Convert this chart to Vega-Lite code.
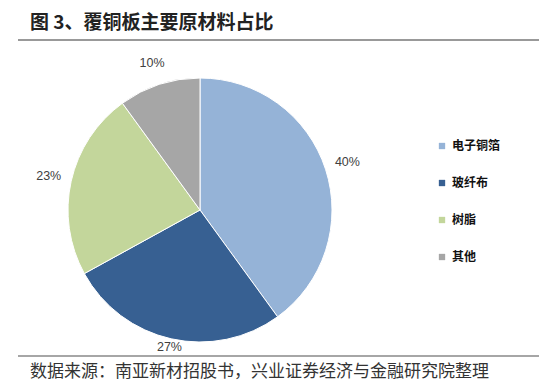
{
  "$schema": "https://vega.github.io/schema/vega-lite/v6.json",
  "width": 400,
  "height": 340,
  "autosize": {"type": "none"},
  "padding": {"left": 0, "top": 40, "right": 139, "bottom": 9},
  "background": "white",
  "title": {
    "text": "图 3、覆铜板主要原材料占比",
    "anchor": "start",
    "frame": "group",
    "dx": 30,
    "offset": 6,
    "font": "Noto Sans CJK SC",
    "fontSize": 19,
    "fontWeight": "bold",
    "color": "#222222"
  },
  "config": {"view": {"stroke": null}},
  "data": {
    "values": [
      {"material": "电子铜箔", "share": 40, "label": "40%"},
      {"material": "玻纤布", "share": 27, "label": "27%"},
      {"material": "树脂", "share": 23, "label": "23%"},
      {"material": "其他", "share": 10, "label": "10%"}
    ]
  },
  "layer": [
    {
      "mark": {"type": "arc", "outerRadius": 132, "stroke": "white", "strokeWidth": 1},
      "encoding": {
        "theta": {"field": "share", "type": "quantitative", "stack": true},
        "order": {"field": "share", "type": "quantitative", "sort": "descending"},
        "color": {
          "field": "material",
          "type": "nominal",
          "sort": ["电子铜箔", "玻纤布", "树脂", "其他"],
          "scale": {
            "domain": ["电子铜箔", "玻纤布", "树脂", "其他"],
            "range": ["#95B3D7", "#376092", "#C3D69B", "#A6A6A6"]
          },
          "legend": {
            "title": null,
            "orient": "none",
            "legendX": 436,
            "legendY": 100,
            "symbolType": "square",
            "symbolSize": 40,
            "symbolStrokeWidth": 0,
            "labelFont": "Noto Sans CJK SC",
            "labelFontSize": 12,
            "labelFontWeight": "bold",
            "labelColor": "#111111",
            "labelOffset": 4,
            "rowPadding": 25
          }
        }
      }
    },
    {
      "mark": {"type": "text", "font": "Liberation Sans", "fontSize": 12.5, "color": "#404040"},
      "encoding": {
        "theta": {"field": "share", "type": "quantitative", "stack": true},
        "order": {"field": "share", "type": "quantitative", "sort": "descending"},
        "radius": {"value": {"expr": "datum.material === '玻纤布' ? 140 : 155"}},
        "text": {"field": "label", "type": "nominal"}
      }
    },
    {
      "data": {"values": [{"k": 1}]},
      "mark": {"type": "rule", "stroke": "#999999", "strokeWidth": 2},
      "encoding": {"x": {"value": 18}, "x2": {"value": 539}, "y": {"value": 0}}
    },
    {
      "data": {"values": [{"k": 1}]},
      "mark": {"type": "rule", "stroke": "#888888", "strokeWidth": 1.5},
      "encoding": {"x": {"value": 18}, "x2": {"value": 539}, "y": {"value": 316}}
    },
    {
      "data": {"values": [{"t": "数据来源：南亚新材招股书，兴业证券经济与金融研究院整理"}]},
      "mark": {"type": "text", "align": "left", "baseline": "middle", "font": "Noto Sans CJK SC", "fontSize": 17, "color": "#333333"},
      "encoding": {"x": {"value": 30}, "y": {"value": 332}, "text": {"field": "t", "type": "nominal"}}
    }
  ]
}
